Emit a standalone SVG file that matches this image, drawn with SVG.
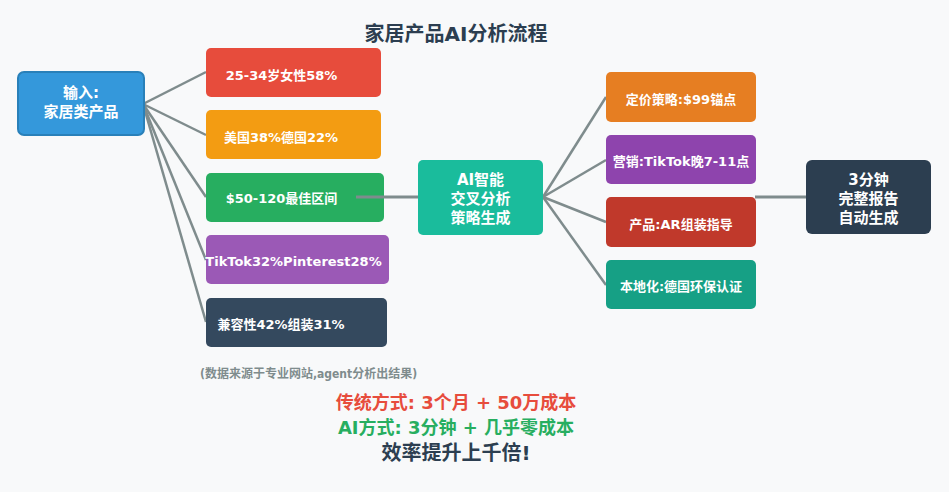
<svg xmlns="http://www.w3.org/2000/svg" width="949" height="492" viewBox="0 0 949 492">
<style>
text{font-family:"DejaVu Sans","Noto Sans CJK SC",sans-serif;font-weight:bold;fill:#fff}
.c{stroke:#7f8c8d;stroke-width:2.5;fill:none;stroke-linecap:butt}
.t{font-size:13px}
.big{font-size:15px;text-anchor:middle}
.m{text-anchor:middle}
</style>
<rect width="949" height="492" fill="#f8f9fa"/>
<text x="456" y="41" font-size="20" class="m" style="fill:#2c3e50">家居产品AI分析流程</text>
<g id="connectors">
<line class="c" x1="143" y1="104" x2="206" y2="72"/>
<line class="c" x1="143" y1="104" x2="206" y2="135"/>
<line class="c" x1="143" y1="104" x2="206" y2="197"/>
<line class="c" x1="143" y1="104" x2="206" y2="260"/>
<line class="c" x1="143" y1="104" x2="206" y2="322"/>
<line class="c" x1="543" y1="197" x2="606" y2="97"/>
<line class="c" x1="543" y1="197" x2="606" y2="160"/>
<line class="c" x1="543" y1="197" x2="606" y2="222"/>
<line class="c" x1="543" y1="197" x2="606" y2="285"/>
<line class="c" x1="755" y1="197" x2="806" y2="197" style="stroke-width:3"/>
</g>
<g id="input">
<rect x="18" y="72" width="126" height="63" rx="6" fill="#3498db" stroke="#2980b9" stroke-width="2"/>
<text x="81" y="98" class="big">输入:</text>
<text x="81" y="117" class="big">家居类产品</text>
</g>
<g id="n1"><rect x="206" y="48" width="175" height="49" rx="5" fill="#e74c3c"/><text x="281.5" y="80" class="t m">25-34岁女性58%</text></g>
<g id="n2"><rect x="206" y="110" width="175" height="49" rx="5" fill="#f39c12"/><text x="281" y="142" class="t m">美国38%德国22%</text></g>
<g id="n3"><rect x="206" y="173" width="178" height="49" rx="5" fill="#27ae60"/><text x="281.5" y="203" class="t m">$50-120最佳区间</text></g>
<g id="n4"><rect x="206" y="235" width="183" height="49" rx="5" fill="#9b59b6"/><text x="293.5" y="266" class="t m">TikTok32%Pinterest28%</text></g>
<g id="n5"><rect x="206" y="298" width="181" height="49" rx="5" fill="#34495e"/><text x="281" y="329" class="t m">兼容性42%组装31%</text></g>
<line class="c" x1="356" y1="197" x2="418" y2="197" style="stroke-width:3"/>
<g id="ai">
<rect x="418" y="160" width="125" height="75" rx="5" fill="#1abc9c"/>
<text x="480.5" y="185" class="big">AI智能</text>
<text x="480.5" y="204" class="big">交叉分析</text>
<text x="480.5" y="223" class="big">策略生成</text>
</g>
<g id="o1"><rect x="606" y="72" width="150" height="50" rx="5" fill="#e67e22"/><text x="681" y="104" class="t m">定价策略:$99锚点</text></g>
<g id="o2"><rect x="606" y="135" width="150" height="49" rx="5" fill="#8e44ad"/><text x="681" y="166" class="t m">营销:TikTok晚7-11点</text></g>
<g id="o3"><rect x="606" y="197" width="150" height="50" rx="5" fill="#c0392b"/><text x="681" y="229" class="t m">产品:AR组装指导</text></g>
<g id="o4"><rect x="606" y="260" width="150" height="49" rx="5" fill="#16a085"/><text x="681" y="291" class="t m">本地化:德国环保认证</text></g>
<g id="final">
<rect x="806" y="160" width="125" height="74" rx="6" fill="#2c3e50"/>
<text x="868.5" y="185" class="big">3分钟</text>
<text x="868.5" y="204" class="big">完整报告</text>
<text x="868.5" y="223" class="big">自动生成</text>
</g>
<text x="200" y="378" font-size="12" style="fill:#7f8c8d;font-family:'DejaVu Sans Condensed','Noto Sans CJK SC',sans-serif">(数据来源于专业网站,agent分析出结果)</text>
<text x="456" y="409" font-size="18" class="m" style="fill:#e74c3c">传统方式: 3个月 + 50万成本</text>
<text x="456" y="434" font-size="18" class="m" style="fill:#27ae60">AI方式: 3分钟 + 几乎零成本</text>
<text x="456" y="460" font-size="20" class="m" style="fill:#2c3e50">效率提升上千倍!</text>
</svg>
